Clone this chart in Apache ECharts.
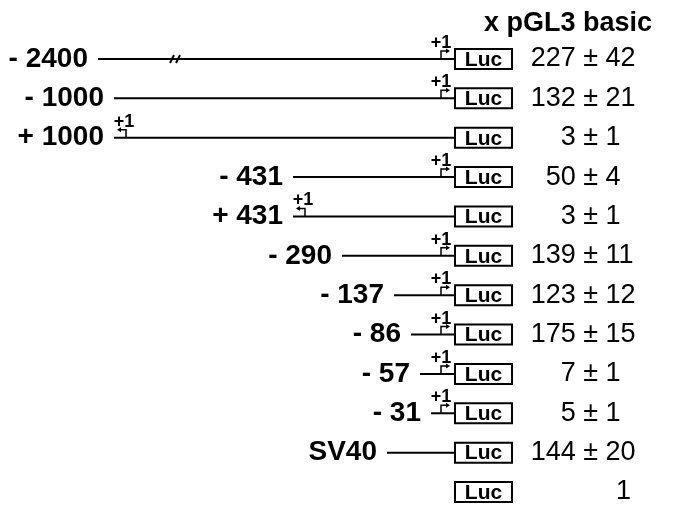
<!DOCTYPE html>
<html>
<head>
<meta charset="utf-8">
<script src="https://cdn.jsdelivr.net/npm/echarts@6/dist/echarts.min.js"></script>
<style>
  html, body { margin: 0; padding: 0; background: #fff; }
  #chart { width: 680px; height: 525px; }
</style>
</head>
<body>
<div id="chart"></div>
<script>
// constructs, top to bottom
const constructs = ['- 2400', '- 1000', '+ 1000', '- 431', '+ 431', '- 290', '- 137', '- 86', '- 57', '- 31', 'SV40', '']
// where each insert line begins on the drawing's x scale (null = empty vector)
const insertStart = [98, 114, 114, 293, 293, 342, 394, 411, 420, 431, 387, null]
// +1 start site: fwd = sense, rev = reversed insert, none
const tssArrow = ['fwd', 'fwd', 'rev', 'fwd', 'rev', 'fwd', 'fwd', 'fwd', 'fwd', 'fwd', 'none', 'none']
// scale break on the long insert
const breakAt = [175, null, null, null, null, null, null, null, null, null, null, null]
// fold activity over pGL3 basic (mean ± sd)
const foldMean = [227, 132, 3, 50, 3, 139, 123, 175, 7, 5, 144, 1]
const foldSD = [42, 21, 1, 4, 1, 11, 12, 15, 1, 1, 20, null]

const INK = '#000'
const FONT = '"Liberation Sans", Arial, Helvetica, sans-serif'
const LUC_X = 455
const LUC_W = 57
const LUC_H = 20
const PM_X = 598      // right edge of the ± column
const VALUE_END = 631 // right edge for a lone value

function renderItem(params, api) {
  const i = params.dataIndex
  const y = api.coord([0, i])[1]
  const px = (v) => api.coord([v, i])[0]
  const boxL = px(LUC_X)
  const boxR = px(LUC_X + LUC_W)
  const kids = []

  const start = insertStart[i]
  if (start != null) {
    const xs = px(start)
    kids.push({
      type: 'line',
      shape: { x1: xs, y1: y, x2: boxL, y2: y },
      style: { stroke: INK, lineWidth: 2 },
    })
    kids.push({
      type: 'text',
      style: {
        x: xs - 10, y: y, text: constructs[i], fill: INK,
        font: 'bold 28px ' + FONT, align: 'right', verticalAlign: 'middle',
      },
    })
    if (breakAt[i] != null) {
      const bx = px(breakAt[i])
      kids.push({ type: 'line', shape: { x1: bx - 5, y1: y + 4, x2: bx - 1, y2: y - 4 }, style: { stroke: INK, lineWidth: 2 } })
      kids.push({ type: 'line', shape: { x1: bx + 1, y1: y + 4, x2: bx + 5, y2: y - 4 }, style: { stroke: INK, lineWidth: 2 } })
    }
  }

  const arrow = tssArrow[i]
  if (arrow !== 'none') {
    let vx, dir, tx
    if (arrow === 'fwd') {
      vx = boxL - 14; dir = 1; tx = boxL - 14
    } else {
      vx = px(start) + 12; dir = -1; tx = px(start) + 10
    }
    const tip = vx + dir * 9
    const ay = y - 8
    kids.push({
      type: 'polyline',
      shape: { points: [[vx, y], [vx, ay], [tip - dir * 3, ay]] },
      style: { stroke: INK, lineWidth: 1.5, fill: null },
    })
    kids.push({
      type: 'polygon',
      shape: { points: [[tip, ay], [tip - dir * 4, ay - 2.5], [tip - dir * 4, ay + 2.5]] },
      style: { fill: INK },
    })
    kids.push({
      type: 'text',
      style: {
        x: tx, y: y - 16, text: '+1', fill: INK,
        font: 'bold 18px ' + FONT, align: 'center', verticalAlign: 'middle',
      },
    })
  }

  kids.push({
    type: 'rect',
    shape: { x: boxL, y: y - LUC_H / 2, width: boxR - boxL, height: LUC_H },
    style: { fill: '#fff', stroke: INK, lineWidth: 2 },
  })
  kids.push({
    type: 'text',
    style: {
      x: (boxL + boxR) / 2, y: y + 1, text: 'Luc', fill: INK,
      font: 'bold 21px ' + FONT, align: 'center', verticalAlign: 'middle',
    },
  })

  const valFont = '27px ' + FONT
  if (foldSD[i] != null) {
    kids.push({
      type: 'text',
      style: { x: px(PM_X), y: y, text: foldMean[i] + ' \u00b1', fill: INK, font: valFont, align: 'right', verticalAlign: 'middle' },
    })
    kids.push({
      type: 'text',
      style: { x: px(PM_X), y: y, text: ' ' + foldSD[i], fill: INK, font: valFont, align: 'left', verticalAlign: 'middle' },
    })
  } else {
    kids.push({
      type: 'text',
      style: { x: px(VALUE_END), y: y, text: String(foldMean[i]), fill: INK, font: valFont, align: 'right', verticalAlign: 'middle' },
    })
  }

  return { type: 'group', children: kids }
}

const chart = echarts.init(document.getElementById('chart'), null, { renderer: 'canvas' })
chart.setOption({
  animation: false,
  backgroundColor: '#fff',
  title: {
    text: 'x pGL3 basic',
    left: 484,
    top: 10,
    padding: 0,
    textStyle: { fontFamily: FONT, fontWeight: 'bold', fontSize: 27, color: INK },
  },
  grid: { left: 0, right: 0, top: 59, bottom: 33 },
  xAxis: { type: 'value', min: 0, max: 680, show: false },
  yAxis: { type: 'value', min: 0, max: 11, inverse: true, show: false },
  series: [{
    type: 'custom',
    renderItem: renderItem,
    clip: false,
    data: constructs.map((_, i) => [i, i]),
  }],
})
</script>
</body>
</html>
